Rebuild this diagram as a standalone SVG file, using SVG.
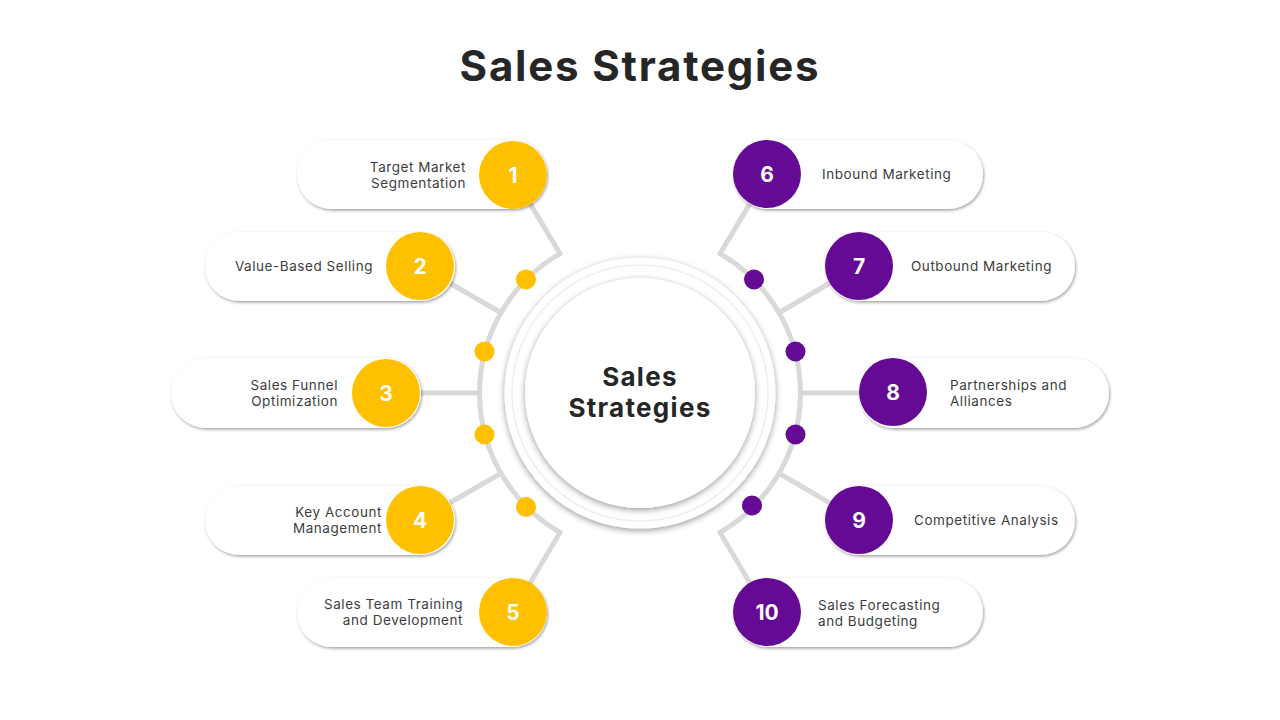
<svg xmlns="http://www.w3.org/2000/svg" width="1280" height="720" viewBox="0 0 1280 720">
<defs>
<filter id="sh" x="-20%" y="-30%" width="140%" height="170%">
<feDropShadow dx="1" dy="1.5" stdDeviation="1.6" flood-color="#000" flood-opacity="0.38"/>
</filter>
<filter id="shc" x="-20%" y="-20%" width="140%" height="140%">
<feDropShadow dx="0" dy="2" stdDeviation="3" flood-color="#000" flood-opacity="0.4"/>
</filter>
<style>
.pill{fill:#fff;filter:url(#sh)}
.y{fill:#FFC000}
.p{fill:#640A94}
.ln{stroke:#D9D9D9;stroke-width:5;fill:none;stroke-linejoin:miter}
.num{font-family:Inter,"Noto Sans",sans-serif;font-weight:700;font-size:21px;fill:#fff;text-anchor:middle}
.lb{font-family:Inter,"Noto Sans",sans-serif;font-size:13.5px;fill:#3d3d3d;letter-spacing:0.55px}
.r{text-anchor:end}
.title{font-family:Inter,"Noto Sans",sans-serif;font-weight:700;fill:#262626;text-anchor:middle}
</style>
</defs>
<rect width="1280" height="720" fill="#fff"/>
<text class="title" x="640" y="81" font-size="42" letter-spacing="1.8">Sales Strategies</text>

<g id="connectors">
<path class="ln" d="M513 175 L560 253.6 A161 161 0 0 0 560 532.4 L513 612"/>
<path class="ln" d="M420 266 L500.6 312.5"/>
<path class="ln" d="M386 393 L479 393"/>
<path class="ln" d="M420 520 L500.6 473.5"/>
<path class="ln" d="M767 175 L720 253.6 A161 161 0 0 1 720 532.4 L767 612"/>
<path class="ln" d="M859 266 L779.4 312.5"/>
<path class="ln" d="M893 393 L801 393"/>
<path class="ln" d="M859 520 L779.4 473.5"/>
<circle class="y" cx="526" cy="279.5" r="10"/>
<circle class="y" cx="484.5" cy="351.5" r="10"/>
<circle class="y" cx="484.5" cy="434.5" r="10"/>
<circle class="y" cx="526" cy="507" r="10"/>
<circle class="p" cx="754" cy="279.5" r="10"/>
<circle class="p" cx="795.5" cy="351.5" r="10"/>
<circle class="p" cx="795.5" cy="434.5" r="10"/>
<circle class="p" cx="752" cy="505.5" r="10"/>
</g>

<g id="center">
<circle cx="640" cy="393" r="135.5" fill="#fff" filter="url(#shc)"/>
<circle cx="640" cy="393" r="128" fill="none" stroke="#efefef" stroke-width="1.5"/>
<circle cx="640" cy="393" r="115" fill="#fff" filter="url(#shc)"/>
<text class="title" x="640" y="386" font-size="26" letter-spacing="1.3">Sales</text>
<text class="title" x="640" y="417" font-size="26" letter-spacing="1.3">Strategies</text>
</g>

<g id="n1">
<rect class="pill" x="297" y="140" width="250" height="69" rx="34.5"/>
<circle class="y" cx="513" cy="175" r="34"/>
<text class="num" x="513" y="182.5">1</text>
<text class="lb r" x="466" y="172">Target Market</text>
<text class="lb r" x="466" y="188">Segmentation</text>
</g>
<g id="n2">
<rect class="pill" x="205" y="232" width="250" height="69" rx="34.5"/>
<circle class="y" cx="420" cy="266" r="34"/>
<text class="num" x="420" y="273.5">2</text>
<text class="lb r" x="373" y="271">Value-Based Selling</text>
</g>
<g id="n3">
<rect class="pill" x="171" y="358" width="250" height="70" rx="35"/>
<circle class="y" cx="386" cy="393" r="34"/>
<text class="num" x="386" y="400.5">3</text>
<text class="lb r" x="338" y="390">Sales Funnel</text>
<text class="lb r" x="338" y="406">Optimization</text>
</g>
<g id="n4">
<rect class="pill" x="205" y="486" width="250" height="69" rx="34.5"/>
<circle class="y" cx="420" cy="520" r="34"/>
<text class="num" x="420" y="527.5">4</text>
<text class="lb r" x="382" y="517">Key Account</text>
<text class="lb r" x="382" y="533">Management</text>
</g>
<g id="n5">
<rect class="pill" x="297" y="578" width="250" height="69" rx="34.5"/>
<circle class="y" cx="513" cy="612" r="34"/>
<text class="num" x="513" y="619.5">5</text>
<text class="lb r" x="463" y="609">Sales Team Training</text>
<text class="lb r" x="463" y="625">and Development</text>
</g>

<g id="n6">
<rect class="pill" x="733" y="140" width="250" height="69" rx="34.5"/>
<circle class="p" cx="767" cy="174" r="34"/>
<text class="num" x="767" y="181.5">6</text>
<text class="lb" x="822" y="179">Inbound Marketing</text>
</g>
<g id="n7">
<rect class="pill" x="825" y="232" width="250" height="69" rx="34.5"/>
<circle class="p" cx="859" cy="266" r="34"/>
<text class="num" x="859" y="273.5">7</text>
<text class="lb" x="911" y="271">Outbound Marketing</text>
</g>
<g id="n8">
<rect class="pill" x="859" y="358" width="250" height="70" rx="35"/>
<circle class="p" cx="893" cy="392" r="34"/>
<text class="num" x="893" y="399.5">8</text>
<text class="lb" x="950" y="390">Partnerships and</text>
<text class="lb" x="950" y="406">Alliances</text>
</g>
<g id="n9">
<rect class="pill" x="825" y="486" width="250" height="69" rx="34.5"/>
<circle class="p" cx="859" cy="520" r="34"/>
<text class="num" x="859" y="527.5">9</text>
<text class="lb" x="914" y="525">Competitive Analysis</text>
</g>
<g id="n10">
<rect class="pill" x="733" y="578" width="250" height="69" rx="34.5"/>
<circle class="p" cx="767" cy="612" r="34"/>
<text class="num" x="767" y="619.5">10</text>
<text class="lb" x="818" y="610">Sales Forecasting</text>
<text class="lb" x="818" y="626">and Budgeting</text>
</g>
</svg>
